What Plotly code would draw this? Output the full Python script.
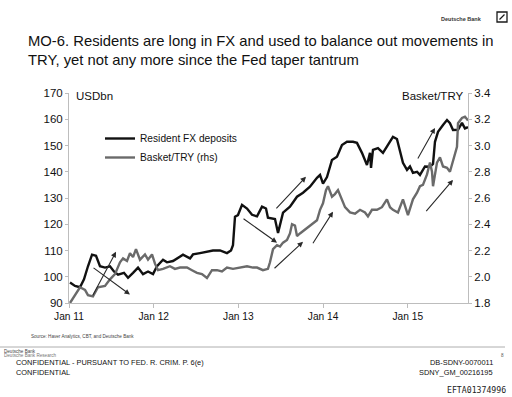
import plotly.graph_objects as go

# ---------------- data ----------------
fx_years = [2011.012, 2011.071, 2011.130, 2011.177, 2011.224, 2011.272, 2011.319, 2011.366,
            2011.425, 2011.484, 2011.531, 2011.579, 2011.649, 2011.697, 2011.756, 2011.815,
            2011.874, 2011.933, 2011.992, 2012.039, 2012.110, 2012.157, 2012.228, 2012.275,
            2012.346, 2012.429, 2012.464, 2012.547, 2012.629, 2012.700, 2012.783, 2012.865,
            2012.913, 2012.936, 2012.960, 2012.995, 2013.043, 2013.102, 2013.161, 2013.220,
            2013.279, 2013.326, 2013.349, 2013.432, 2013.468, 2013.527, 2013.609, 2013.692,
            2013.763, 2013.845, 2013.928, 2013.964, 2013.999, 2014.046, 2014.105, 2014.164,
            2014.223, 2014.282, 2014.353, 2014.400, 2014.459, 2014.518, 2014.554, 2014.566,
            2014.589, 2014.648, 2014.707, 2014.766, 2014.825, 2014.872, 2014.908, 2014.943,
            2014.991, 2015.026, 2015.061, 2015.109, 2015.144, 2015.203, 2015.262, 2015.298,
            2015.321, 2015.357, 2015.416, 2015.463, 2015.498, 2015.534, 2015.593, 2015.640,
            2015.675, 2015.711]
fx_deposits = [97.8, 96.5, 96.0, 99.0, 104.0, 108.4, 108.0, 104.0,
               103.5, 104.0, 102.0, 100.8, 101.5, 99.6, 101.5, 103.5,
               101.0, 102.0, 101.0, 104.0, 106.5, 105.5, 106.0, 107.0,
               108.4, 107.0, 108.5, 109.0, 109.5, 110.0, 110.0, 109.0,
               110.0, 112.0, 122.9, 123.5, 127.4, 126.0, 123.6, 123.0,
               126.7, 126.0, 122.5, 122.0, 116.7, 124.4, 126.7, 130.5,
               132.0, 134.3, 137.7, 138.8, 135.5, 138.0, 144.5, 145.7,
               150.2, 151.4, 151.4, 151.0, 147.2, 142.6, 147.2, 141.5,
               148.3, 149.0, 147.2, 150.2, 153.3, 152.5, 148.3, 143.4,
               140.7, 142.0, 139.6, 140.0, 138.8, 142.0, 141.9, 143.0,
               151.4, 155.2, 157.8, 159.7, 158.5, 155.9, 156.0, 158.6,
               156.5, 157.0]

try_years = [2011.012, 2011.071, 2011.130, 2011.189, 2011.224, 2011.283, 2011.342, 2011.425,
             2011.484, 2011.543, 2011.602, 2011.638, 2011.685, 2011.720, 2011.756, 2011.791,
             2011.838, 2011.897, 2011.933, 2011.980, 2012.015, 2012.051, 2012.110, 2012.192,
             2012.251, 2012.311, 2012.393, 2012.452, 2012.511, 2012.570, 2012.629, 2012.688,
             2012.747, 2012.806, 2012.865, 2012.936, 2013.019, 2013.102, 2013.172, 2013.220,
             2013.290, 2013.349, 2013.373, 2013.409, 2013.456, 2013.491, 2013.527, 2013.574,
             2013.609, 2013.633, 2013.668, 2013.692, 2013.727, 2013.786, 2013.822, 2013.881,
             2013.928, 2013.964, 2013.999, 2014.034, 2014.058, 2014.105, 2014.140, 2014.176,
             2014.223, 2014.259, 2014.318, 2014.377, 2014.436, 2014.495, 2014.530, 2014.577,
             2014.636, 2014.695, 2014.754, 2014.790, 2014.825, 2014.884, 2014.943, 2015.002,
             2015.061, 2015.109, 2015.144, 2015.179, 2015.227, 2015.262, 2015.286, 2015.298,
             2015.345, 2015.380, 2015.416, 2015.463, 2015.498, 2015.534, 2015.581, 2015.593,
             2015.640, 2015.675, 2015.711]
basket_try = [1.80, 1.86, 1.92, 1.90, 1.86, 1.85, 1.92, 1.93,
              1.98, 2.02, 2.11, 2.14, 2.12, 2.18, 2.15, 2.21,
              2.13, 2.17, 2.13, 2.17, 2.10, 2.05, 2.06, 2.08,
              2.06, 2.07, 2.07, 2.05, 2.03, 2.02, 1.99, 2.05,
              2.05, 2.04, 2.07, 2.06, 2.07, 2.08, 2.07, 2.07,
              2.05, 2.06, 2.11, 2.21, 2.24, 2.23, 2.26, 2.28,
              2.33, 2.40, 2.39, 2.31, 2.33, 2.36, 2.38, 2.41,
              2.43, 2.51, 2.56, 2.66, 2.69, 2.61, 2.63, 2.66,
              2.58, 2.53, 2.49, 2.48, 2.51, 2.49, 2.46, 2.51,
              2.51, 2.53, 2.59, 2.53, 2.51, 2.49, 2.59, 2.47,
              2.59, 2.64, 2.69, 2.70, 2.78, 2.87, 2.80, 2.69,
              2.87, 2.91, 2.84, 2.83, 2.80, 2.89, 2.99, 3.17,
              3.21, 3.22, 3.19]

left_ticks = [90, 100, 110, 120, 130, 140, 150, 160, 170]
right_ticks = [1.8, 2.0, 2.2, 2.4, 2.6, 2.8, 3.0, 3.2, 3.4]
right_tick_labels = ["1.8", "2.0", "2.2", "2.4", "2.6", "2.8", "3.0", "3.2", "3.4"]
x_tick_years = [2011, 2012, 2013, 2014, 2015]
x_tick_labels = ["Jan 11", "Jan 12", "Jan 13", "Jan 14", "Jan 15"]

# arrows drawn on the chart: (tail year, tail USDbn, head year, head USDbn)
arrow_tails_x = [2011.272, 2011.272, 2013.043, 2013.409, 2013.432, 2013.869, 2015.109, 2015.203]
arrow_tails_y = [103.8, 92.4, 122.5, 102.7, 125.5, 112.2, 144.5, 124.4]
arrow_heads_x = [2011.720, 2011.555, 2013.456, 2013.763, 2013.798, 2014.117, 2015.321, 2015.534]
arrow_heads_y = [93.2, 109.5, 113.0, 113.3, 138.1, 124.8, 156.7, 136.9]

# ---------------- figure ----------------
W, H = 512, 397
L, R, T, B = 69, 468, 93, 303  # plot area in pixels


def px(xp):
    return (xp - L) / (R - L)


def py(yp):
    return (B - yp) / (B - T)


FONT = "Liberation Sans, Arial, sans-serif"
AXIS_COLOR = "#bdbdbd"

fig = go.Figure()
fig.add_trace(go.Scatter(x=fx_years, y=fx_deposits, name="Resident FX deposits",
                         mode="lines", line=dict(color="#111111", width=2.4),
                         yaxis="y"))
fig.add_trace(go.Scatter(x=try_years, y=basket_try, name="Basket/TRY (rhs)",
                         mode="lines", line=dict(color="#6a6a6a", width=2.4),
                         yaxis="y2"))

annotations = []
for tx, ty, hx, hy in zip(arrow_tails_x, arrow_tails_y, arrow_heads_x, arrow_heads_y):
    annotations.append(dict(x=hx, y=hy, ax=tx, ay=ty, xref="x", yref="y",
                            axref="x", ayref="y", text="", showarrow=True,
                            arrowhead=2, arrowsize=1, arrowwidth=1.1,
                            arrowcolor="#2a2a2a", standoff=0))

def txt(text, x, y, size, xanchor="left", yanchor="middle", color="#111111",
        family=FONT):
    annotations.append(dict(text=text, x=px(x), y=py(y), xref="paper", yref="paper",
                            showarrow=False, xanchor=xanchor, yanchor=yanchor,
                            font=dict(size=size, color=color, family=family)))

txt("USDbn", 74, 96, 11.5)
txt("Basket/TRY", 465, 96, 11.5, xanchor="right")
txt("<b>Deutsche Bank</b>", 484, 19, 5.5, xanchor="right", color="#333333")
txt("Source: Haver Analytics, CBT, and Deutsche Bank", 29, 336, 4.6, color="#444444")
txt("Deutsche Bank", 2, 351, 4.6, color="#444444")
txt("Deutsche Bank Research", 2, 355.5, 4.6, color="#777777")
txt("CONFIDENTIAL - PURSUANT TO FED. R. CRIM. P. 6(e)", 14, 362, 7.4)
txt("CONFIDENTIAL", 14, 372, 7.4)
txt("DB-SDNY-0070011", 495, 362, 7.4, xanchor="right")
txt("SDNY_GM_00216195", 495, 372, 7.4, xanchor="right")
txt("8", 499, 355, 4.6, color="#555555")
txt("EFTA01374996", 508, 390, 8.2, xanchor="right", color="#222222",
    family="DejaVu Sans Mono, monospace")

shapes = [
    # footer rule
    dict(type="line", xref="paper", yref="paper", x0=px(0), x1=px(505),
         y0=py(347), y1=py(347), line=dict(color="#9a9a9a", width=0.8)),
    # logo box
    dict(type="rect", xref="paper", yref="paper", x0=px(497), x1=px(507),
         y0=py(22), y1=py(12), line=dict(color="#1a1a1a", width=1.3)),
    dict(type="line", xref="paper", yref="paper", x0=px(499.5), x1=px(504.5),
         y0=py(19.5), y1=py(14.5), line=dict(color="#1a1a1a", width=1.3)),
]

fig.update_layout(
    width=W, height=H,
    margin=dict(l=L, r=W - R, t=T, b=H - B, pad=0),
    paper_bgcolor="white", plot_bgcolor="white",
    font=dict(family=FONT, color="#111111"),
    title=dict(text="MO-6. Residents are long in FX and used to balance out movements in<br>"
                    "TRY, yet not any more since the Fed taper tantrum",
               x=28 / W, xanchor="left", xref="container",
               y=1 - 46 / H, yanchor="top", yref="container",
               font=dict(size=14.8, family=FONT, color="#111111")),
    xaxis=dict(range=[2011.0, 2015.711], tickvals=x_tick_years, ticktext=x_tick_labels,
               showgrid=False, zeroline=False, showline=True, linecolor=AXIS_COLOR,
               linewidth=1, ticks="outside", ticklen=4, tickcolor=AXIS_COLOR,
               tickfont=dict(size=10.2, family=FONT, color="#111111")),
    yaxis=dict(range=[90, 170], tickvals=left_ticks, showgrid=False, zeroline=False,
               showline=True, linecolor=AXIS_COLOR, linewidth=1, ticks="outside",
               ticklen=3, tickcolor=AXIS_COLOR,
               tickfont=dict(size=11.5, family=FONT, color="#111111")),
    yaxis2=dict(range=[1.8, 3.4], tickvals=right_ticks, ticktext=right_tick_labels,
                overlaying="y", side="right", showgrid=False, zeroline=False,
                showline=True, linecolor=AXIS_COLOR, linewidth=1, ticks="outside",
                ticklen=3, tickcolor=AXIS_COLOR,
                tickfont=dict(size=11.5, family=FONT, color="#111111")),
    legend=dict(x=px(100), y=py(124), xanchor="left", yanchor="top",
                bgcolor="rgba(0,0,0,0)", borderwidth=0, itemwidth=30,
                font=dict(size=10.2, family=FONT, color="#111111"),
                tracegroupgap=0),
    showlegend=True,
    annotations=annotations,
    shapes=shapes,
)

fig.write_html("out.html",
               config={"displayModeBar": False},
               post_script="document.body.style.margin='0';"
                           "document.body.style.padding='0';")
